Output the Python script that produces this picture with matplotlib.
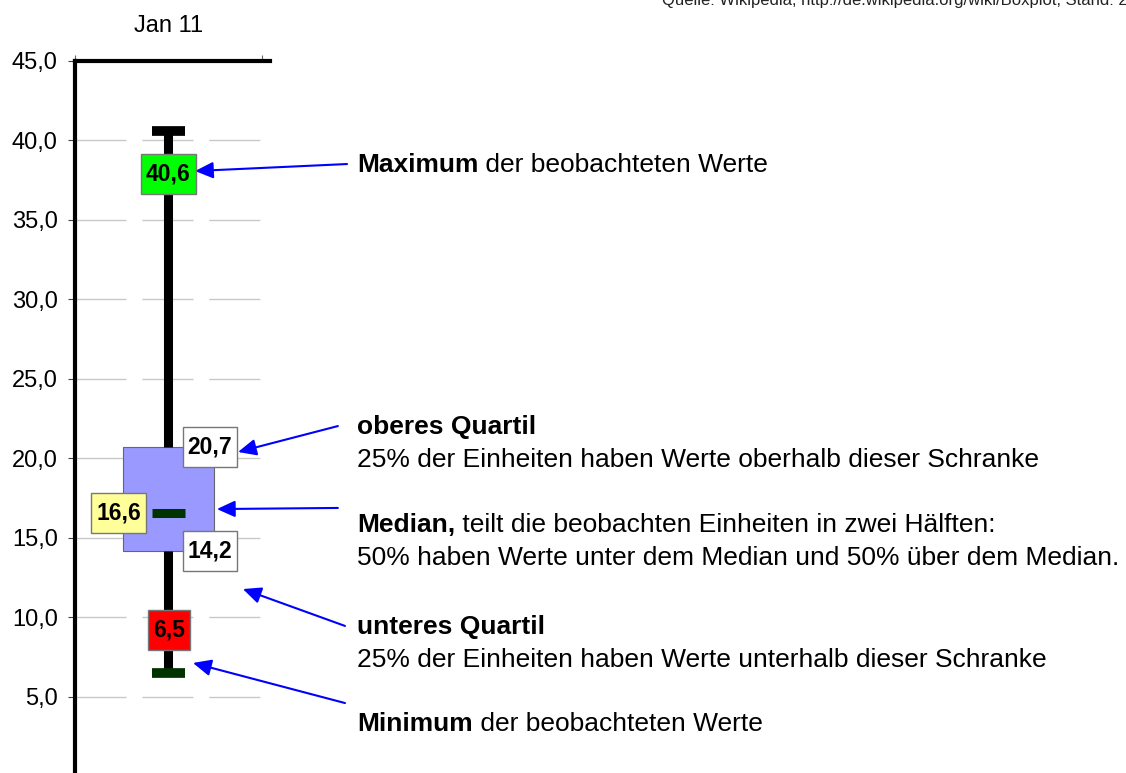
import matplotlib
matplotlib.use('Agg')
import matplotlib.pyplot as plt
from matplotlib.path import Path
from matplotlib.ticker import FuncFormatter

plt.rcParams['font.family'] = ['Liberation Sans', 'DejaVu Sans']
plt.rcParams['lines.scale_dashes'] = False

# Kennwerte des Boxplots
category = 'Jan 11'
minimum = 6.5
q1 = 14.2
median = 16.6
q3 = 20.7
maximum = 40.6

yticks = [5, 10, 15, 20, 25, 30, 35, 40, 45]

# Beschriftungen rechts
note_bold = ['Maximum', 'oberes Quartil', 'Median,', 'unteres Quartil', 'Minimum']
note_rest = [' der beobachteten Werte', '', ' teilt die beobachten Einheiten in zwei Hälften:',
             '', ' der beobachteten Werte']
note_second = ['', '25% der Einheiten haben Werte oberhalb dieser Schranke',
               '50% haben Werte unter dem Median und 50% über dem Median.',
               '25% der Einheiten haben Werte unterhalb dieser Schranke', '']
note_y = [38.02, 21.54, 15.38, 8.96, 2.86]
arrow_tail = [(1.455, 38.52), (1.406, 22.04), (1.406, 16.89), (1.444, 9.47), (1.444, 4.62)]
arrow_tip = [(0.642, 38.08), (0.872, 20.41), (0.759, 16.82), (0.898, 11.79), (0.631, 7.14)]


def fmt(v):
    return ('%.1f' % v).replace('.', ',')


def label_box(x0, y0, width, height, mutation_size):
    # schmaler Rand links/rechts, etwas mehr oben/unten
    px = 0.22 * mutation_size
    py = 0.37 * mutation_size
    x0, y0 = x0 - px, y0 - py
    x1, y1 = x0 + width + 2 * px, y0 + height + 2 * py
    return Path([(x0, y0), (x1, y0), (x1, y1), (x0, y1), (x0, y0)], closed=True)


fig = plt.figure(figsize=(11.26, 7.73), dpi=100)
ax = fig.add_axes([75 / 1126, 0, 195 / 1126, 1 - 61 / 773])
ax.set_xlim(0, 1.043)
ax.set_ylim(0.22, 45)

# Box, Whisker, Caps
stats = [dict(med=median, q1=q1, q3=q3, whislo=minimum, whishi=maximum, fliers=[])]
bp = ax.bxp(stats, positions=[0.5], widths=0.49, capwidths=0.176, patch_artist=True,
            boxprops=dict(facecolor='#9999ff', edgecolor='#666666', linewidth=0.8),
            whiskerprops=dict(color='black', linewidth=6.5, solid_capstyle='butt'),
            capprops=dict(color='black', linewidth=7, solid_capstyle='butt'),
            medianprops=dict(color='#003300', linewidth=6.5, solid_capstyle='butt'),
            showfliers=False)
bp['caps'][0].set_color('#003300')
bp['caps'][0].set_zorder(3)
bp['medians'][0].set_xdata([0.5 - 0.088, 0.5 + 0.088])

# Wertelabels
lbl = dict(ha='center', va='center', fontsize=16.5, fontweight='bold', zorder=5)
ax.text(0.5, 37.9, fmt(maximum), bbox=dict(boxstyle=label_box, fc='#00ff00', ec='#777777', lw=1), **lbl)
ax.text(0.722, q3, fmt(q3), bbox=dict(boxstyle=label_box, fc='white', ec='#777777', lw=1), **lbl)
ax.text(0.233, median, fmt(median), bbox=dict(boxstyle=label_box, fc='#ffff99', ec='#777777', lw=1), **lbl)
ax.text(0.722, q1, fmt(q1), bbox=dict(boxstyle=label_box, fc='white', ec='#777777', lw=1), **lbl)
ax.text(0.503, 9.2, fmt(minimum), bbox=dict(boxstyle=label_box, fc='#ff0000', ec='#777777', lw=1), **lbl)

# Erklaerungen mit Pfeilen
for b, r, s, y, tail, tip in zip(note_bold, note_rest, note_second, note_y, arrow_tail, arrow_tip):
    t = ax.text(1.508, y, b, fontsize=19, fontweight='bold', va='baseline', clip_on=False)
    if r:
        ax.annotate(r, xy=(1, 0), xycoords=t, va='bottom', ha='left', fontsize=19,
                    annotation_clip=False)
    if s:
        ax.text(1.508, y - 2.08, s, fontsize=19, va='baseline', clip_on=False)
    ax.annotate('', xy=tip, xytext=tail, annotation_clip=False,
                arrowprops=dict(arrowstyle='-|>,head_length=1.1,head_width=0.5',
                                mutation_scale=10, color='#0000ff', lw=1.5,
                                shrinkA=0, shrinkB=0))

# Achsen
for side in ['right', 'bottom']:
    ax.spines[side].set_visible(False)
for side in ['left', 'top']:
    ax.spines[side].set_linewidth(3)
    ax.spines[side].set_color('black')

ax.set_yticks(yticks)
ax.yaxis.set_major_formatter(FuncFormatter(lambda v, p: fmt(v)))
ax.tick_params(axis='y', direction='out', length=5, width=0.8, color='#444444',
               labelsize=17, pad=7.5)

ax.xaxis.tick_top()
ax.set_xticks([0, 1])
ax.set_xticklabels(['', ''])
ax.set_xticks([0.5], minor=True)
ax.set_xticklabels([category], minor=True)
ax.tick_params(axis='x', which='major', direction='out', length=4.5, width=0.8, color='#666666')
ax.tick_params(axis='x', which='minor', length=0, pad=17, labelsize=17)

ax.yaxis.grid(True, color='#c8c8c8', linewidth=1, linestyle=(0, (36.7, 11.5)))
ax.set_axisbelow(True)

fig.text(662 / 1126, 1 - 5 / 773,
         'Quelle: Wikipedia, http://de.wikipedia.org/wiki/Boxplot, Stand: 21.01.2010',
         fontsize=12, va='baseline', color='#222222')

fig.savefig('out.png', dpi=100)
